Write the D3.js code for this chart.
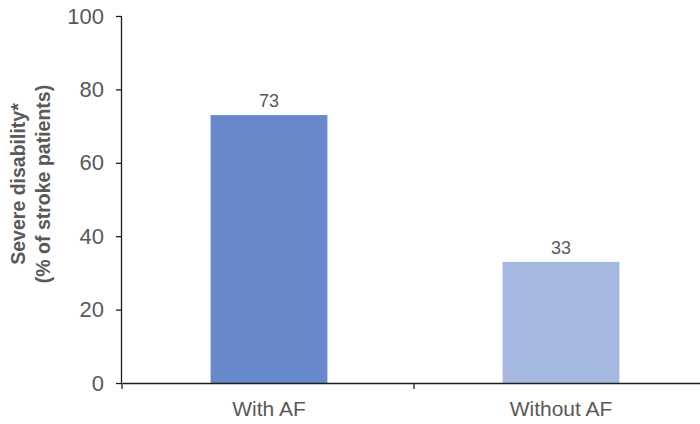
<!DOCTYPE html>
<html>
<head>
<meta charset="utf-8">
<script src="https://cdn.jsdelivr.net/npm/d3@7"></script>
<style>
  html, body { margin: 0; padding: 0; background: #fff; }
  svg { display: block; font-family: "Liberation Sans", Arial, sans-serif; }
</style>
</head>
<body>
<svg id="chart" width="700" height="424"></svg>
<script>
// Share of stroke patients left with severe disability
const categories = ["With AF", "Without AF"];
const values = [73, 33];
const barColors = ["#6788cb", "#a4b8e1"];
const yTicks = [0, 20, 40, 60, 80, 100];
const yTitle = ["Severe disability*", "(% of stroke patients)"];

const svg = d3.select("#chart");
const margin = { left: 122, top: 16, bottom: 41 };
const axisRight = 706;
const height = 424;
const textColor = "#595959";
const axisColor = "#1e1e1e";

const y = d3.scaleLinear().domain([0, 100]).range([height - margin.bottom, margin.top]);
const x = d3.scaleBand().domain(categories).range([margin.left, axisRight])
  .paddingInner(0.6).paddingOuter(0.3);

// Bars
svg.append("g").selectAll("rect")
  .data(categories)
  .join("rect")
  .attr("x", d => x(d) + 1)
  .attr("width", x.bandwidth())
  .attr("y", (d, i) => y(values[i]))
  .attr("height", (d, i) => y(0) - y(values[i]))
  .attr("fill", (d, i) => barColors[i]);

// Value labels
svg.append("g").selectAll("text")
  .data(categories)
  .join("text")
  .attr("x", d => x(d) + 1 + x.bandwidth() / 2)
  .attr("y", (d, i) => y(values[i]) - 8)
  .attr("text-anchor", "middle")
  .attr("fill", textColor)
  .style("font-size", "18px")
  .text((d, i) => values[i]);

// Y axis
const yAxis = svg.append("g")
  .attr("transform", `translate(${margin.left},0)`)
  .call(d3.axisLeft(y).tickValues(yTicks).tickSize(6).tickPadding(12));
yAxis.select(".domain").attr("stroke", axisColor).attr("stroke-width", 1.3)
  .attr("d", `M-0.5,${y(100)}V${y(0)}`);
yAxis.selectAll(".tick line").attr("stroke", axisColor).attr("stroke-width", 1.3);
yAxis.selectAll(".tick text").attr("fill", textColor)
  .style("font-size", "22px").style("font-family", "Liberation Sans, Arial, sans-serif");

// X axis: labels centred under bars, tick marks at category boundaries
const xAxis = svg.append("g")
  .attr("transform", `translate(0,${y(0)})`)
  .call(d3.axisBottom(x).tickSize(0).tickPadding(18));
xAxis.selectAll(".tick").attr("transform", d => `translate(${x(d) + 1 + x.bandwidth() / 2},0)`);
xAxis.select(".domain").attr("stroke", axisColor).attr("stroke-width", 1.5);
xAxis.selectAll(".tick text").attr("fill", textColor)
  .style("font-size", "21px").style("font-family", "Liberation Sans, Arial, sans-serif");
const boundaries = d3.range(categories.length + 1).map(i => margin.left + i * x.step());
xAxis.selectAll("line.boundary")
  .data(boundaries)
  .join("line")
  .attr("class", "boundary")
  .attr("x1", d => d).attr("x2", d => d)
  .attr("y1", 0).attr("y2", 6)
  .attr("stroke", axisColor).attr("stroke-width", 1.3);

// Y axis title (two lines, rotated)
const title = svg.append("text")
  .attr("transform", `translate(25,184) rotate(-90)`)
  .attr("text-anchor", "middle")
  .attr("fill", textColor)
  .style("font-size", "19.5px")
  .style("font-weight", "bold");
title.selectAll("tspan")
  .data(yTitle)
  .join("tspan")
  .attr("x", 0)
  .attr("dy", (d, i) => i === 0 ? 0 : 25)
  .text(d => d);
</script>
</body>
</html>
